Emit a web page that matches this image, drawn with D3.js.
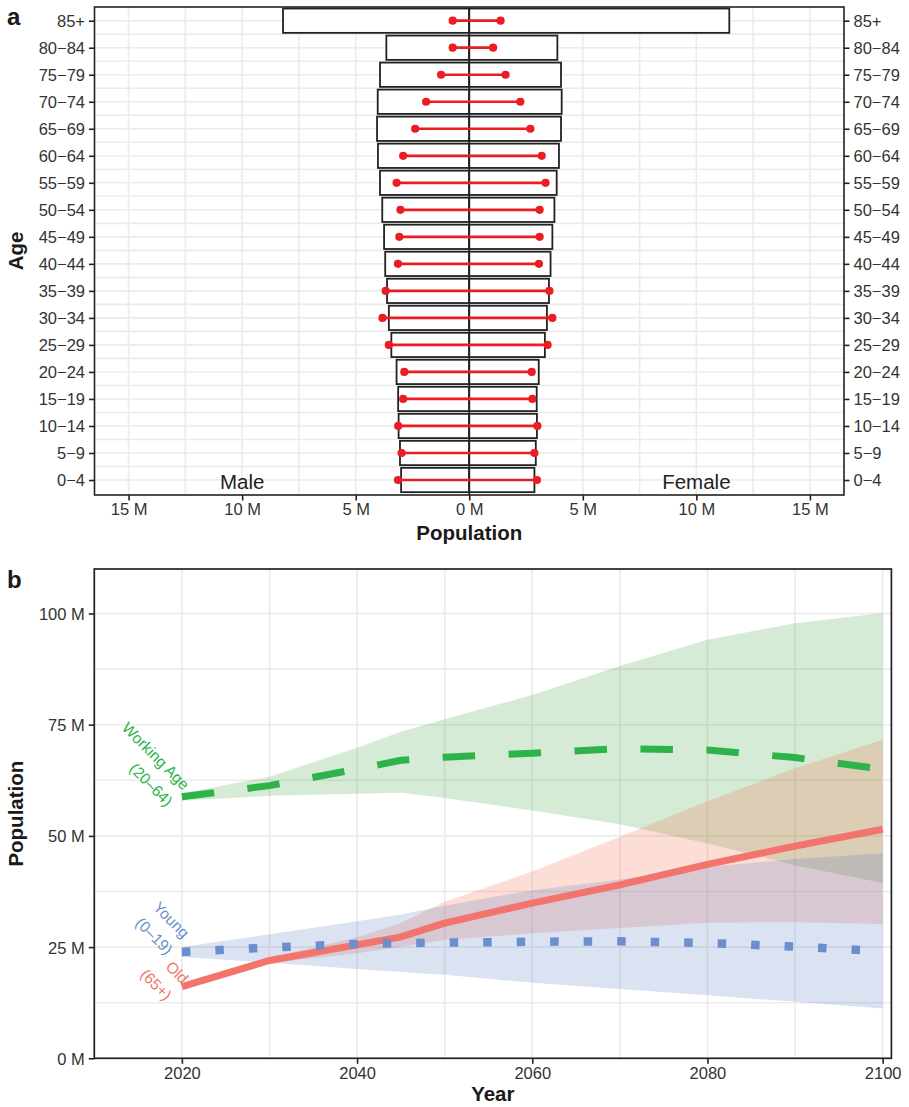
<!DOCTYPE html>
<html>
<head>
<meta charset="utf-8">
<script src="https://cdn.jsdelivr.net/npm/d3@7"></script>
<style>
  html, body { margin: 0; padding: 0; background: #fff; }
  svg { display: block; font-family: "Liberation Sans", Arial, Helvetica, sans-serif; }
</style>
</head>
<body>
<svg id="chart" width="909" height="1107"></svg>
<script>
// ---------- Panel a: population pyramid (millions) ----------
const ageGroups = ["85+", "80−84", "75−79", "70−74", "65−69", "60−64", "55−59", "50−54", "45−49",
                   "40−44", "35−39", "30−34", "25−29", "20−24", "15−19", "10−14", "5−9", "0−4"];
const maleBars   = [8.20, 3.65, 3.93, 4.03, 4.06, 4.02, 3.93, 3.83, 3.75, 3.70, 3.62, 3.54, 3.43, 3.20, 3.13, 3.11, 3.05, 3.00];
const femaleBars = [11.45, 3.88, 4.04, 4.07, 4.04, 3.95, 3.85, 3.75, 3.66, 3.58, 3.51, 3.42, 3.33, 3.06, 2.97, 2.98, 2.93, 2.87];
const maleDots   = [0.73, 0.73, 1.24, 1.90, 2.38, 2.91, 3.20, 3.03, 3.08, 3.14, 3.68, 3.82, 3.54, 2.86, 2.91, 3.13, 2.98, 3.14];
const femaleDots = [1.38, 1.05, 1.60, 2.25, 2.69, 3.19, 3.36, 3.10, 3.10, 3.07, 3.53, 3.66, 3.45, 2.75, 2.78, 3.00, 2.87, 2.98];
const popTicks = [-15, -10, -5, 0, 5, 10, 15];
const popGrid = d3.range(-15, 15.01, 2.5);

// ---------- Panel b: broad age groups over time (millions) ----------
const years = [2020, 2030, 2040, 2045, 2050, 2060, 2070, 2080, 2090, 2100];
const workMid  = [58.8, 61.3, 65.0, 67.0, 67.7, 68.6, 69.6, 69.3, 67.6, 65.0];
const workLow  = [57.9, 59.0, 59.5, 59.7, 58.5, 55.7, 52.6, 48.3, 43.4, 39.4];
const workHigh = [59.6, 63.3, 69.8, 73.4, 76.2, 81.7, 88.2, 94.1, 97.8, 100.1];
const youngMid  = [23.9, 24.9, 25.7, 25.9, 26.0, 26.2, 26.3, 25.9, 25.1, 24.1];
const youngLow  = [22.8, 21.5, 20.1, 19.4, 18.8, 17.0, 15.6, 14.2, 12.7, 11.2];
const youngHigh = [25.0, 27.9, 30.8, 32.3, 34.3, 37.8, 40.2, 43.0, 44.8, 46.1];
const oldMid  = [16.1, 22.0, 25.5, 27.3, 30.4, 34.9, 39.0, 43.6, 47.7, 51.5];
const oldLow  = [16.1, 21.4, 23.6, 25.1, 26.6, 28.1, 29.3, 30.5, 30.6, 30.2];
const oldHigh = [16.1, 22.6, 27.2, 30.4, 35.2, 42.0, 49.8, 57.8, 65.2, 71.6];
const yearTicks = [2020, 2040, 2060, 2080, 2100];
const yearGrid = [2010, 2020, 2030, 2040, 2050, 2060, 2070, 2080, 2090, 2100];
const valueTicks = [0, 25, 50, 75, 100];
const valueGrid = [0, 12.5, 25, 37.5, 50, 62.5, 75, 87.5, 100];

const groupLabels = [
  { lines: ["Working Age", "(20–64)"], color: "#2db34a", mid: workMid,  dx: 1, dy: -6 },
  { lines: ["Young", "(0–19)"],        color: "#6a8fcc", mid: youngMid, dx: 1, dy: -13 },
  { lines: ["Old", "(65+)"],           color: "#f3736d", mid: oldMid,   dx: 0, dy: -2 }
];

const svg = d3.select("#chart");
const ink = "#222";
const tickInk = "#333";
const gridCol = "#ebebeb";
const tickFont = "16.5px";

// ================= Panel a =================
const A = { left: 94.5, right: 844, top: 7, bottom: 495 };
const xa = d3.scaleLinear().domain([-16.5, 16.5]).range([A.left, A.right]);
const ya = d3.scalePoint().domain(ageGroups).range([20.7, 480]);
const step = ya.step();
const ga = svg.append("g");

// grid
ga.selectAll("line.vg").data(popGrid).join("line")
  .attr("x1", d => xa(d)).attr("x2", d => xa(d))
  .attr("y1", A.top).attr("y2", A.bottom)
  .attr("stroke", gridCol).attr("stroke-width", 1.6);
const hGrid = [];
ageGroups.forEach((g, i) => {
  hGrid.push(ya(g));
  if (i < ageGroups.length - 1) hGrid.push(ya(g) + step / 2);
});
ga.selectAll("line.hg").data(hGrid).join("line")
  .attr("x1", A.left).attr("x2", A.right)
  .attr("y1", d => d).attr("y2", d => d)
  .attr("stroke", gridCol).attr("stroke-width", 1.6);

// bars
const barH = step * 0.9;
const rows = ageGroups.map((g, i) => ({ g, m: maleBars[i], f: femaleBars[i], dm: maleDots[i], df: femaleDots[i] }));
ga.selectAll("rect.male").data(rows).join("rect")
  .attr("x", d => xa(-d.m)).attr("width", d => xa(0) - xa(-d.m))
  .attr("y", d => ya(d.g) - barH / 2).attr("height", barH)
  .attr("fill", "#fff").attr("stroke", ink).attr("stroke-width", 1.8);
ga.selectAll("rect.female").data(rows).join("rect")
  .attr("x", xa(0)).attr("width", d => xa(d.f) - xa(0))
  .attr("y", d => ya(d.g) - barH / 2).attr("height", barH)
  .attr("fill", "#fff").attr("stroke", ink).attr("stroke-width", 1.8);

// zero line
ga.append("line").attr("x1", xa(0)).attr("x2", xa(0)).attr("y1", A.top).attr("y2", A.bottom)
  .attr("stroke", ink).attr("stroke-width", 1.6);

// dumbbells
const red = "#ec1c24";
ga.selectAll("line.db").data(rows).join("line")
  .attr("x1", d => xa(-d.dm)).attr("x2", d => xa(d.df))
  .attr("y1", d => ya(d.g)).attr("y2", d => ya(d.g))
  .attr("stroke", red).attr("stroke-width", 2.7);
ga.selectAll("circle.dm").data(rows).join("circle")
  .attr("cx", d => xa(-d.dm)).attr("cy", d => ya(d.g)).attr("r", 4.1).attr("fill", red);
ga.selectAll("circle.df").data(rows).join("circle")
  .attr("cx", d => xa(d.df)).attr("cy", d => ya(d.g)).attr("r", 4.1).attr("fill", red);

// sex labels
ga.append("text").attr("x", xa(-10)).attr("y", 489).attr("text-anchor", "middle")
  .attr("font-size", "20.5px").attr("fill", ink).text("Male");
ga.append("text").attr("x", xa(10)).attr("y", 489).attr("text-anchor", "middle")
  .attr("font-size", "20.5px").attr("fill", ink).text("Female");

// panel border
ga.append("rect").attr("x", A.left).attr("y", A.top).attr("width", A.right - A.left).attr("height", A.bottom - A.top)
  .attr("fill", "none").attr("stroke", ink).attr("stroke-width", 1.6);

// axes
const fmtM = d => `${Math.abs(d)} M`;
const axA = ga.append("g").attr("transform", `translate(0,${A.bottom})`)
  .call(d3.axisBottom(xa).tickValues(popTicks).tickFormat(fmtM).tickSize(5.5).tickPadding(3));
const axL = ga.append("g").attr("transform", `translate(${A.left},0)`)
  .call(d3.axisLeft(ya).tickSize(5.5).tickPadding(4));
const axR = ga.append("g").attr("transform", `translate(${A.right},0)`)
  .call(d3.axisRight(ya).tickSize(5.5).tickPadding(4));
[axA, axL, axR].forEach(ax => {
  ax.select(".domain").remove();
  ax.selectAll(".tick line").attr("stroke", ink).attr("stroke-width", 1.6);
  ax.selectAll(".tick text").attr("font-size", tickFont).attr("fill", tickInk)
    .attr("font-family", "'Liberation Sans', Arial, sans-serif");
});
axL.selectAll(".tick text").attr("dy", "0.36em");
axR.selectAll(".tick text").attr("dy", "0.36em");

ga.append("text").attr("x", (A.left + A.right) / 2).attr("y", 540).attr("text-anchor", "middle")
  .attr("font-size", "20.5px").attr("font-weight", "bold").attr("fill", "#1a1a1a").text("Population");
ga.append("text").attr("transform", `translate(23,${(A.top + A.bottom) / 2}) rotate(-90)`)
  .attr("text-anchor", "middle").attr("font-size", "20.5px").attr("font-weight", "bold")
  .attr("fill", "#1a1a1a").text("Age");
ga.append("text").attr("x", 7).attr("y", 25).attr("font-size", "24px").attr("font-weight", "bold")
  .attr("fill", "#1a1a1a").text("a");

// ================= Panel b =================
const B = { left: 94.3, right: 891.4, top: 569, bottom: 1058.3 };
const xb = d3.scaleLinear().domain([2010, 2101]).range([B.left, B.right]);
const yb = d3.scaleLinear().domain([0, 110]).range([B.bottom, B.top]);
const gb = svg.append("g");

gb.selectAll("line.vg").data(yearGrid).join("line")
  .attr("x1", d => xb(d)).attr("x2", d => xb(d)).attr("y1", B.top).attr("y2", B.bottom)
  .attr("stroke", gridCol).attr("stroke-width", 1.6);
gb.selectAll("line.hg").data(valueGrid).join("line")
  .attr("x1", B.left).attr("x2", B.right).attr("y1", d => yb(d)).attr("y2", d => yb(d))
  .attr("stroke", gridCol).attr("stroke-width", 1.6);

const series = [
  { key: "work",  mid: workMid,  lo: workLow,  hi: workHigh,  fill: "rgb(50,155,50)",  line: "#2db34a" },
  { key: "old",   mid: oldMid,   lo: oldLow,   hi: oldHigh,   fill: "rgb(240,92,52)",  line: "#f3736d" },
  { key: "young", mid: youngMid, lo: youngLow, hi: youngHigh, fill: "rgb(75,115,192)", line: "#6a8fcc" }
];
const area = d3.area().x(d => xb(d.year)).y0(d => yb(d.lo)).y1(d => yb(d.hi));
const line = d3.line().x(d => xb(d.year)).y(d => yb(d.v));

series.forEach(s => {
  const pts = years.map((yr, i) => ({ year: yr, lo: s.lo[i], hi: s.hi[i] }));
  gb.append("path").datum(pts).attr("d", area).attr("fill", s.fill).attr("fill-opacity", 0.2);
});

const midPts = s => years.map((yr, i) => ({ year: yr, v: s.mid[i] }));
// old: solid
gb.append("path").datum(midPts(series[1])).attr("d", line).attr("fill", "none")
  .attr("stroke", series[1].line).attr("stroke-width", 7).attr("stroke-linejoin", "round");
// working age: dashed
gb.append("path").datum(midPts(series[0])).attr("d", line).attr("fill", "none")
  .attr("stroke", series[0].line).attr("stroke-width", 7).attr("stroke-dasharray", "32.5 33.5");
// young: square dots
gb.append("path").datum(midPts(series[2])).attr("d", line).attr("fill", "none")
  .attr("stroke", series[2].line).attr("stroke-width", 8.5).attr("stroke-dasharray", "8.5 25");

// group labels
groupLabels.forEach(l => {
  const g = gb.append("g")
    .attr("transform", `translate(${xb(years[0]) + l.dx},${yb(l.mid[0]) + l.dy}) rotate(45)`);
  l.lines.forEach((t, i) => {
    g.append("text").attr("x", 0).attr("y", i * 23.5).attr("text-anchor", "end")
      .attr("font-size", "15.5px").attr("fill", l.color).text(t);
  });
});

gb.append("rect").attr("x", B.left).attr("y", B.top).attr("width", B.right - B.left).attr("height", B.bottom - B.top)
  .attr("fill", "none").attr("stroke", ink).attr("stroke-width", 1.7);

const axB = gb.append("g").attr("transform", `translate(0,${B.bottom})`)
  .call(d3.axisBottom(xb).tickValues(yearTicks).tickFormat(d3.format("d")).tickSize(5.5).tickPadding(3));
const axBL = gb.append("g").attr("transform", `translate(${B.left},0)`)
  .call(d3.axisLeft(yb).tickValues(valueTicks).tickFormat(d => `${d} M`).tickSize(5.5).tickPadding(4));
[axB, axBL].forEach(ax => {
  ax.select(".domain").remove();
  ax.selectAll(".tick line").attr("stroke", ink).attr("stroke-width", 1.6);
  ax.selectAll(".tick text").attr("font-size", tickFont).attr("fill", tickInk)
    .attr("font-family", "'Liberation Sans', Arial, sans-serif");
});
axBL.selectAll(".tick text").attr("dy", "0.36em");

gb.append("text").attr("x", (B.left + B.right) / 2).attr("y", 1101).attr("text-anchor", "middle")
  .attr("font-size", "20.5px").attr("font-weight", "bold").attr("fill", "#1a1a1a").text("Year");
gb.append("text").attr("transform", `translate(23,${(B.top + B.bottom) / 2}) rotate(-90)`)
  .attr("text-anchor", "middle").attr("font-size", "20.5px").attr("font-weight", "bold")
  .attr("fill", "#1a1a1a").text("Population");
gb.append("text").attr("x", 7).attr("y", 588).attr("font-size", "24px").attr("font-weight", "bold")
  .attr("fill", "#1a1a1a").text("b");
</script>
</body>
</html>
